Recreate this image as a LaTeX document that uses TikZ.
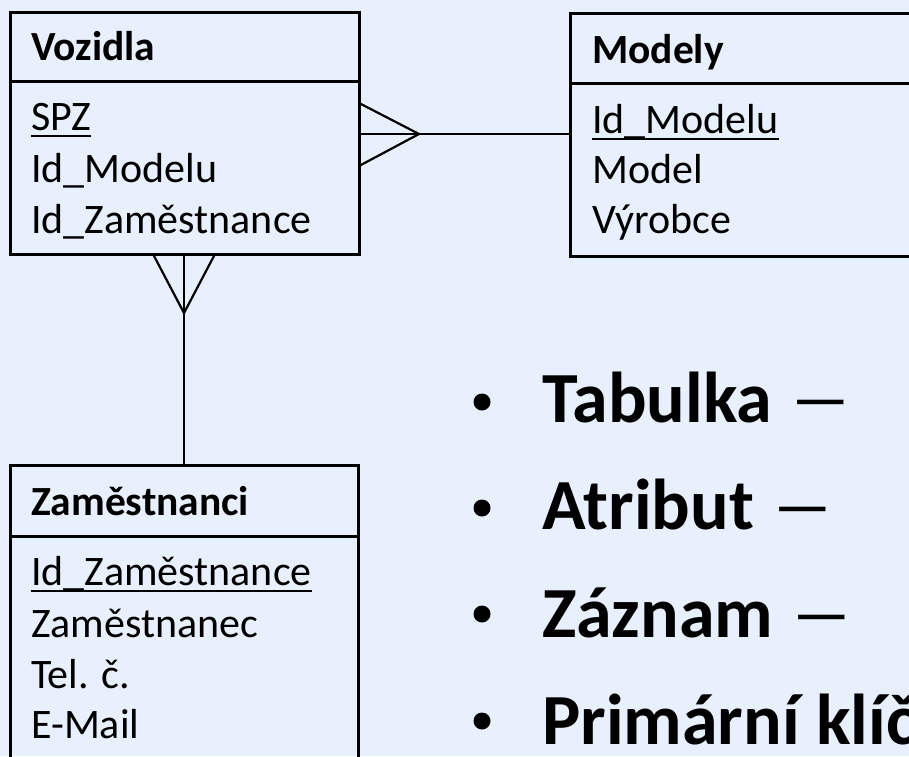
\documentclass[tikz,border=0pt]{standalone}
\usepackage{fontspec}
\setmainfont{Carlito}
\newfontfamily\widedash[FakeStretch=1.8]{Carlito}
\newcommand{\longdash}{{\widedash –}}
\definecolor{slidebg}{RGB}{233,240,253}
\tikzset{
  tablebox/.style={draw=black, line width=3pt},
  link/.style={draw=black, line width=2.2pt},
  ulink/.style={draw=black, line width=2pt},
  head/.style={anchor=base west, inner sep=0pt, font=\fontsize{41.5}{50}\selectfont\bfseries},
  attr/.style={anchor=base west, inner sep=0pt, font=\fontsize{42}{51}\selectfont},
  big/.style={anchor=base west, inner sep=0pt, font=\fontsize{72}{86}\selectfont},
  dot/.style={circle, fill=black, inner sep=0pt, minimum size=17pt}
}
\begin{document}
\begin{tikzpicture}[x=1pt, y=-1pt]
  \useasboundingbox (0,0) rectangle (909,756);
  \clip (0,0) rectangle (909,756);
  \fill[slidebg] (0,0) rectangle (909,756);

  % --- table Vozidla ---
  \path[tablebox] (10,12) rectangle (359,254);
  \path[tablebox] (10,81) -- (359,81);
  \coordinate (vozR) at (359,134);
  \coordinate (vozRa) at (359,103);
  \coordinate (vozRb) at (359,166);
  \coordinate (vozB) at (184,254);
  \coordinate (vozBa) at (153,254);
  \coordinate (vozBb) at (215,254);
  \node[head] (vozH) at (31,60) {Vozidla};
  \node[attr] (spz) at (31,130) {SPZ};
  \node[attr] (vozA2) at (31,182) {Id\_Modelu};
  \node[attr] (vozA3) at (31,233) {Id\_Zaměstnance};
  \draw[ulink] ([yshift=-6pt]spz.base west) -- ([yshift=-6pt]spz.base east);

  % --- table Modely ---
  \path[tablebox] (570,13) rectangle (930,256);
  \path[tablebox] (570,83) -- (930,83);
  \coordinate (modL) at (570,134);
  \node[head] (modH) at (592,63) {Modely};
  \node[attr] (idmod) at (592,133) {Id\_Modelu};
  \node[attr] (modA2) at (592,183) {Model};
  \node[attr] (modA3) at (592,233) {Výrobce};
  \draw[ulink] ([yshift=-6pt]idmod.base west) -- ([yshift=-6pt]idmod.base east);

  % --- table Zaměstnanci ---
  \path[tablebox] (10,465) rectangle (358,780);
  \path[tablebox] (10,536) -- (358,536);
  \coordinate (zamT) at (184,465);
  \node[head] (zamH) at (31,515) {Zaměstnanci};
  \node[attr] (idzam) at (31,585) {Id\_Zaměstnance};
  \node[attr] (zamA2) at (31,637) {Zaměstnanec};
  \node[attr] (zamA3) at (31,688) {Tel. č.};
  \node[attr] (zamA4) at (31,738) {E-Mail};
  \draw[ulink] ([yshift=-6pt]idzam.base west) -- ([yshift=-6pt]idzam.base east);

  % --- relationship Vozidla (many) -- Modely (one) ---
  \coordinate (crowR) at (419,134);
  \draw[link] (vozR) -- (modL);
  \draw[link] (vozRa) -- (crowR) -- (vozRb);

  % --- relationship Vozidla (many) -- Zaměstnanci (one) ---
  \coordinate (crowB) at (184,313);
  \draw[link] (vozB) -- (zamT);
  \draw[link] (vozBa) -- (crowB) -- (vozBb);

  % --- bullet list ---
  \node[dot] (b1) at (482,402) {};
  \node[big] (t1) at (542,422) {\textbf{Tabulka} \longdash};
  \node[dot] (b2) at (482,508) {};
  \node[big] (t2) at (542,529.5) {\textbf{Atribut} \longdash};
  \node[dot] (b3) at (482,614) {};
  \node[big] (t3) at (542,637) {\textbf{Záznam} \longdash};
  \node[dot] (b4) at (482,721) {};
  \node[big] (t4) at (542,744) {\textbf{Primární klíč} \longdash};
\end{tikzpicture}
\end{document}
